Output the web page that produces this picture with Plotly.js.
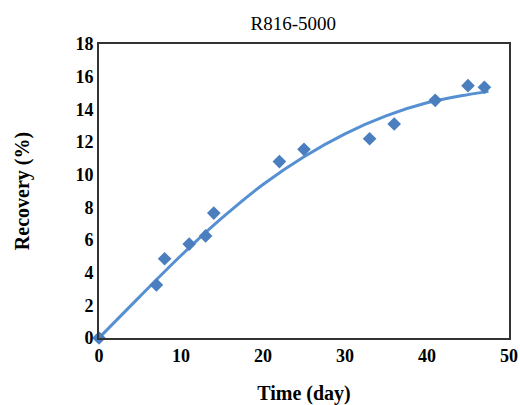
<!DOCTYPE html>
<html><head><meta charset="utf-8">
<script src="https://cdn.plot.ly/plotly-3.0.1.min.js"></script>
<style>html,body{margin:0;padding:0;background:#fff}#chart{width:520px;height:405px}</style>
</head><body><div id="chart"></div>
<script>
const timeDays = [0, 7, 8, 11, 13, 14, 22, 25, 33, 36, 41, 45, 47];
const recovery = [0, 3.25, 4.85, 5.75, 6.25, 7.65, 10.8, 11.55, 12.2, 13.1, 14.55, 15.45, 15.35];
const trendX = [0, 5, 10, 15, 20, 25, 30, 35, 40, 45, 47.5];
const trendY = [0, 2.55, 5.05, 7.35, 9.4, 11.1, 12.5, 13.6, 14.4, 14.9, 15.1];
const xTicks = [0, 10, 20, 30, 40, 50];
const yTicks = [0, 2, 4, 6, 8, 10, 12, 14, 16, 18];

const serif = "Liberation Serif, Times New Roman, serif";
const data = [
  {x: trendX, y: trendY, mode: 'lines', type: 'scatter',
   line: {color: '#5690D2', width: 3, shape: 'spline'}, hoverinfo: 'skip', cliponaxis: false},
  {x: timeDays, y: recovery, mode: 'markers', type: 'scatter',
   marker: {symbol: 'diamond', size: 10.5, color: '#4A7EBF'}, cliponaxis: false}
];
const axisCommon = {showgrid: false, zeroline: false, showline: true, linecolor: '#333', linewidth: 2,
  mirror: true, ticks: '', tickfont: {family: serif, size: 18, color: '#000', weight: 'bold'}};
const layout = {
  width: 520, height: 405, showlegend: false,
  paper_bgcolor: '#fff', plot_bgcolor: '#fff',
  margin: {l: 99, r: 11, t: 44, b: 67},
  title: {text: 'R816-5000', font: {family: serif, size: 19, color: '#000'}, x: 0.564, xanchor: 'center', y: 0.943, yanchor: 'middle'},
  xaxis: Object.assign({}, axisCommon, {range: [0, 50], tickvals: xTicks, ticktext: xTicks.map(String),
    title: {text: 'Time (day)', font: {family: serif, size: 20, color: '#000', weight: 'bold'}, standoff: 24}}),
  yaxis: Object.assign({}, axisCommon, {range: [0, 18], tickvals: yTicks, ticktext: yTicks.map(String),
    title: {text: 'Recovery (%)', font: {family: serif, size: 20, color: '#000', weight: 'bold'}, standoff: 40}})
};
Plotly.newPlot('chart', data, layout, {displayModeBar: false, staticPlot: true});
</script></body></html>
